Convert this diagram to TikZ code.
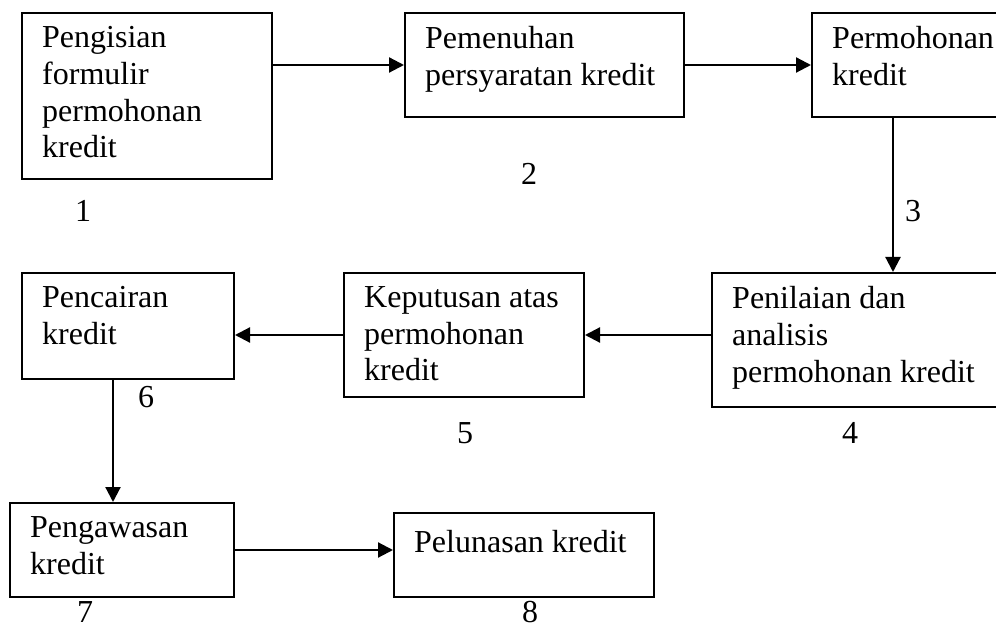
\documentclass[tikz,border=0pt]{standalone}
\usepackage{fontspec}
\setmainfont{Liberation Serif}
\usetikzlibrary{arrows.meta,calc}

\begin{document}
\begin{tikzpicture}[x=1pt,y=-1pt,
  block/.style={draw,line width=2pt,anchor=north west,inner sep=0pt},
  block text/.style={anchor=north west,inner sep=0pt,align=left,xshift=21pt,yshift=-14.3pt,
    font=\fontsize{32}{36.7}\selectfont,execute at begin node=\strut},
  num/.style={anchor=base,inner sep=0pt,font=\fontsize{32}{36.7}\selectfont},
  arr/.style={line width=2.2pt,-{Triangle[length=15pt,width=15pt]}}]
  \clip (0,0) rectangle (996,628);

  \node[block,minimum width=250pt,minimum height=166pt] (b1) at (21,12) {};
  \node[block,minimum width=279pt,minimum height=104pt] (b2) at (404,12) {};
  \node[block,minimum width=200pt,minimum height=104pt] (b3) at (811,12) {};
  \node[block,minimum width=300pt,minimum height=134pt] (b4) at (711,272) {};
  \node[block,minimum width=240pt,minimum height=124pt] (b5) at (343,272) {};
  \node[block,minimum width=212pt,minimum height=106pt] (b6) at (21,272) {};
  \node[block,minimum width=224pt,minimum height=94pt] (b7) at (9,502) {};
  \node[block,minimum width=260pt,minimum height=84pt] (b8) at (393,512) {};

  \node[block text] (t1) at (b1.north west) {Pengisian\\formulir\\permohonan\\kredit};
  \node[block text] (t2) at (b2.north west) {Pemenuhan\\persyaratan kredit};
  \node[block text] (t3) at (b3.north west) {Permohonan\\kredit};
  \node[block text] (t4) at (b4.north west) {Penilaian dan\\analisis\\permohonan kredit};
  \node[block text] (t5) at (b5.north west) {Keputusan atas\\permohonan\\kredit};
  \node[block text] (t6) at (b6.north west) {Pencairan\\kredit};
  \node[block text] (t7) at (b7.north west) {Pengawasan\\kredit};
  \node[block text] (t8) at (b8.north west) {Pelunasan kredit};

  \node[num] (n1) at (83,222) {1};
  \node[num] (n2) at (529,185) {2};
  \node[num] (n3) at (913,222) {3};
  \node[num] (n4) at (850,443) {4};
  \node[num] (n5) at (465,443) {5};
  \node[num] (n6) at (146,407) {6};
  \node[num] (n7) at (85,622) {7};
  \node[num] (n8) at (530,622) {8};

  \coordinate (c3) at ($(b3.south west)+(82,0)$);
  \coordinate (c6) at ($(b6.south west)+(92,0)$);

  \draw[arr] (b1.east |- b2.west) -- (b2.west);
  \draw[arr] (b2.east) -- (b3.west);
  \draw[arr] (c3) -- (c3 |- b4.north);
  \draw[arr] (b4.west |- b5.east) -- (b5.east);
  \draw[arr] (b5.west) -- (b6.east |- b5.west);
  \draw[arr] (c6) -- (c6 |- b7.north);
  \draw[arr] (b7.east) -- (b7.east -| b8.west);
\end{tikzpicture}
\end{document}
